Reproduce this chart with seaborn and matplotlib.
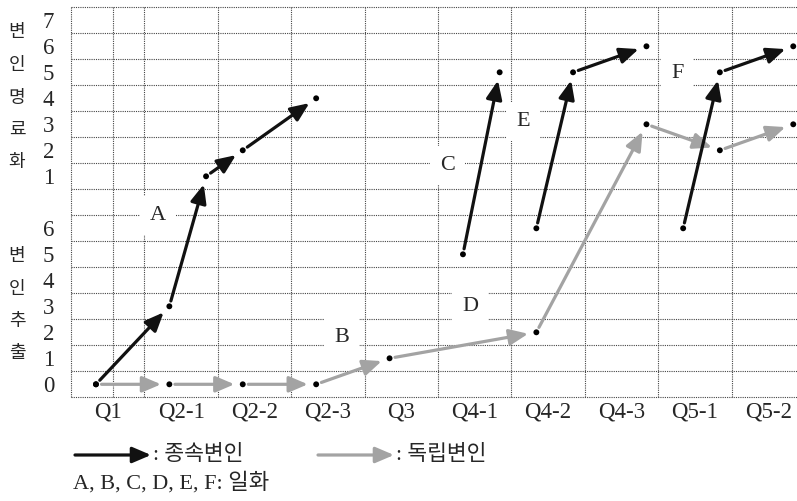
import numpy as np
import pandas as pd
import seaborn as sns
import matplotlib.pyplot as plt

sns.set_style("white")
plt.rcParams['font.family'] = ['Liberation Serif', 'Noto Sans CJK KR']

# x axis questions
questions = ['Q1', 'Q2-1', 'Q2-2', 'Q2-3', 'Q3', 'Q4-1', 'Q4-2', 'Q4-3', 'Q5-1', 'Q5-2']

# 종속변인 (black arrows): question, column in the question, scale, value, chain
dep_q = ['Q1', 'Q2-1', 'Q2-1', 'Q2-2', 'Q2-3', 'Q4-1', 'Q4-1', 'Q4-2', 'Q4-2', 'Q4-3', 'Q5-1', 'Q5-1', 'Q5-2']
dep_col = [0, 0, 1, 0, 0, 0, 1, 0, 1, 1, 0, 1, 1]
dep_scale = ['추출', '추출', '명료화', '명료화', '명료화', '추출', '명료화', '추출', '명료화', '명료화', '추출', '명료화', '명료화']
dep_val = [0, 3, 1, 2, 4, 5, 5, 6, 5, 6, 6, 5, 6]
dep_chain = [1, 1, 1, 1, 1, 2, 2, 3, 3, 3, 4, 4, 4]

# 독립변인 (grey arrows)
ind_q = ['Q1', 'Q2-1', 'Q2-2', 'Q2-3', 'Q3', 'Q4-2', 'Q4-3', 'Q5-1', 'Q5-2']
ind_col = [0, 0, 0, 0, 0, 0, 1, 1, 1]
ind_scale = ['추출', '추출', '추출', '추출', '추출', '추출', '명료화', '명료화', '명료화']
ind_val = [0, 0, 0, 0, 1, 2, 3, 2, 3]
ind_chain = [1, 1, 1, 1, 1, 1, 1, 1, 1]

# y tick labels: 변인추출 0-6 below, 변인명료화 1-7 above
ytick_labels = ['0', '1', '2', '3', '4', '5', '6', '', '1', '2', '3', '4', '5', '6', '7']

# 일화 markers
episodes = ['A', 'B', 'C', 'D', 'E', 'F']
episode_x = [1.37, 6.38, 9.25, 9.88, 11.32, 15.52]
episode_y = [6.5, 1.8, 8.4, 3.0, 10.1, 11.95]


def build(q, col, scale, val, chain, kind):
    df = pd.DataFrame({'q': q, 'col': col, 'scale': scale, 'val': val, 'chain': chain})
    df['x'] = [2 * questions.index(a) + c - 0.32 for a, c in zip(df.q, df.col)]
    df['y'] = [v if s == '추출' else v + 7 for s, v in zip(df.scale, df.val)]
    df['kind'] = kind
    return df


dep = build(dep_q, dep_col, dep_scale, dep_val, dep_chain, '종속변인')
ind = build(ind_q, ind_col, ind_scale, ind_val, ind_chain, '독립변인')

fig = plt.figure(figsize=(7.97, 5.01), dpi=100)
ax = fig.add_axes([71 / 797, 103.7 / 501, 734 / 797, 390 / 501])

GREY = '#a3a3a3'
HEAD = '-|>,head_length=0.75,head_width=0.32'


def arrows(df, color):
    for _, g in df.groupby('chain'):
        pts = g[['x', 'y']].values
        for p0, p1 in zip(pts[:-1], pts[1:]):
            ax.annotate('', xy=p1, xytext=p0,
                        arrowprops=dict(arrowstyle=HEAD, color=color, lw=2.3,
                                        shrinkA=4, shrinkB=6, mutation_scale=15), zorder=4)


arrows(ind, GREY)
arrows(dep, '#111111')

sns.scatterplot(data=pd.concat([dep, ind]), x='x', y='y', color='black', s=18,
                edgecolor='none', zorder=6, legend=False, ax=ax)

for t, x, y in zip(episodes, episode_x, episode_y):
    ax.text(x, y, t, fontsize=16, ha='center', va='center', zorder=3,
            bbox=dict(boxstyle='square,pad=0.45', fc='white', ec='none'))

ax.set_xlim(-1, 19)
ax.set_ylim(-0.5, 14.5)
ax.set_xticks([2 * i for i in range(len(questions))])
ax.set_xticklabels(questions, fontsize=16.5)
ax.set_xticks([-1, 0.15] + list(range(1, 20)), minor=True)
ax.set_yticks(range(15))
ax.set_yticklabels(ytick_labels, fontsize=16.5)
ax.set_yticks(np.arange(-0.5, 15, 1), minor=True)
ax.tick_params(which='both', length=0)
ax.tick_params(axis='y', pad=12)
ax.tick_params(axis='x', pad=3)
ax.grid(False, which='major')
ax.grid(True, which='minor', linestyle=(0, (1, 1)), color='#444444', lw=0.8)
for tk in ax.xaxis.get_minor_ticks() + ax.yaxis.get_minor_ticks():
    tk.gridline.set_clip_on(False)
ax.set_xlabel('')
ax.set_ylabel('')
sns.despine(ax=ax, left=True, bottom=True)

# vertical korean axis titles
for j, ch in enumerate('변인명료화'):
    fig.text(17 / 797, 1 - (33 + j * 32.5) / 501, ch, fontsize=13, ha='center', va='center')
for j, ch in enumerate('변인추출'):
    fig.text(17 / 797, 1 - (257 + j * 32.3) / 501, ch, fontsize=13, ha='center', va='center')

# legend under the chart
for (x0, x1), color, label in [((75, 151), '#111111', ': 종속변인'), ((318, 394), GREY, ': 독립변인')]:
    ax.annotate('', xy=(x1, 46), xytext=(x0, 46), xycoords='figure pixels',
                textcoords='figure pixels', annotation_clip=False,
                arrowprops=dict(arrowstyle=HEAD, color=color, lw=2.3,
                                shrinkA=0, shrinkB=0, mutation_scale=15))
    fig.text((x1 + 2) / 797, 46 / 501, label, fontsize=15.5, ha='left', va='center')
fig.text(73 / 797, 18 / 501, 'A, B, C, D, E, F: 일화', fontsize=16, ha='left', va='center')

fig.savefig('out.png', dpi=100)
